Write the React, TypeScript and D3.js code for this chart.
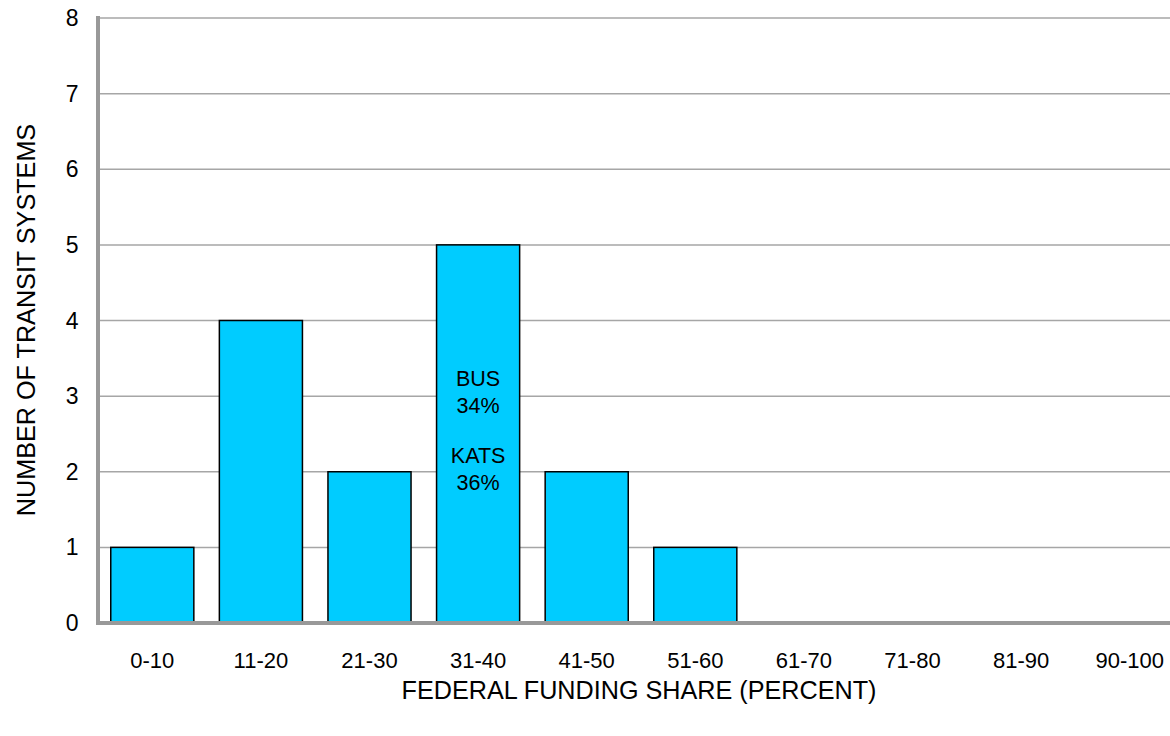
import React from "react";
import * as d3 from "d3";

const categories = ["0-10", "11-20", "21-30", "31-40", "41-50", "51-60", "61-70", "71-80", "81-90", "90-100"];
const counts = [1, 4, 2, 5, 2, 1, 0, 0, 0, 0];
const yTicks = [0, 1, 2, 3, 4, 5, 6, 7, 8];
const annotations = [
  { category: "31-40", lines: ["BUS", "34%"], value: 3.24 },
  { category: "31-40", lines: ["KATS", "36%"], value: 2.21 },
];

export default function App() {
  const W = 1170, H = 736;
  const left = 98, right = 1184, top = 18, bottom = 623;
  const x = d3.scaleBand<string>().domain(categories).range([left, right]).padding(0);
  const y = d3.scaleLinear().domain([0, 8]).range([bottom, top]);
  const bw = x.bandwidth();
  const barW = bw * 0.765;
  const font = "'Liberation Sans', Arial, sans-serif";
  return (
    <svg width={W} height={H} style={{ position: "absolute", left: 0, top: 0, background: "#fff" }} fontFamily={font}>
      {yTicks.filter(t => t > 0).map(t => (
        <line key={t} x1={left} x2={W} y1={y(t)} y2={y(t)} stroke="#a6a6a6" strokeWidth={1.5} />
      ))}
      {categories.map((c, i) => counts[i] > 0 ? (
        <rect key={c} x={x(c)! + (bw - barW) / 2} y={y(counts[i])} width={barW} height={y(0) - y(counts[i])}
          fill="#00CCFF" stroke="#000" strokeWidth={1.5} />
      ) : null)}
      <line x1={left} x2={left} y1={top - 2} y2={bottom + 2} stroke="#999" strokeWidth={4} />
      <line x1={left - 2} x2={W} y1={bottom} y2={bottom} stroke="#999" strokeWidth={4} />
      {yTicks.map(t => (
        <text key={t} x={78.5} y={y(t)} dy="0.35em" textAnchor="end" fontSize={23}>{t}</text>
      ))}
      {categories.map(c => (
        <text key={c} x={x(c)! + bw / 2} y={660} dy="0.35em" textAnchor="middle" fontSize={22}>{c}</text>
      ))}
      {annotations.map((a, k) => a.lines.map((l, j) => (
        <text key={k + "-" + j} x={x(a.category)! + bw / 2} y={y(a.value) + j * 27} dy="0.35em" textAnchor="middle" fontSize={21.5}>{l}</text>
      )))}
      <text x={639} y={690} dy="0.35em" textAnchor="middle" fontSize={25.2}>FEDERAL FUNDING SHARE (PERCENT)</text>
      <text transform={`translate(26,${320}) rotate(-90)`} dy="0.35em" textAnchor="middle" fontSize={25.2}>NUMBER OF TRANSIT SYSTEMS</text>
    </svg>
  );
}
